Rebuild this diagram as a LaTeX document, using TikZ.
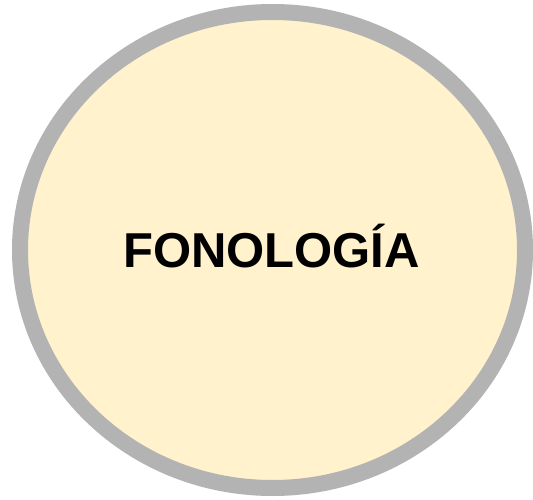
\documentclass[tikz,border=0pt]{standalone}
\usepackage{fontspec}
\setmainfont{Liberation Sans}
\definecolor{fillc}{HTML}{FFF2CC}
\definecolor{linec}{HTML}{B3B3B3}
\tikzset{bubble/.style={ellipse, draw=linec, fill=fillc, line width=16pt},
  label/.style={font=\fontsize{49}{56}\selectfont\bfseries, text=black}}
\usetikzlibrary{shapes.geometric}
\begin{document}
\begin{tikzpicture}[x=1pt,y=-1pt]
\useasboundingbox (0,0) rectangle (533,500);
\draw[bubble] (272.5,250) ellipse [x radius=252.5, y radius=238];
\node[label] (t) at (271.5,246) {FONOLOGÍA};
\end{tikzpicture}
\end{document}
